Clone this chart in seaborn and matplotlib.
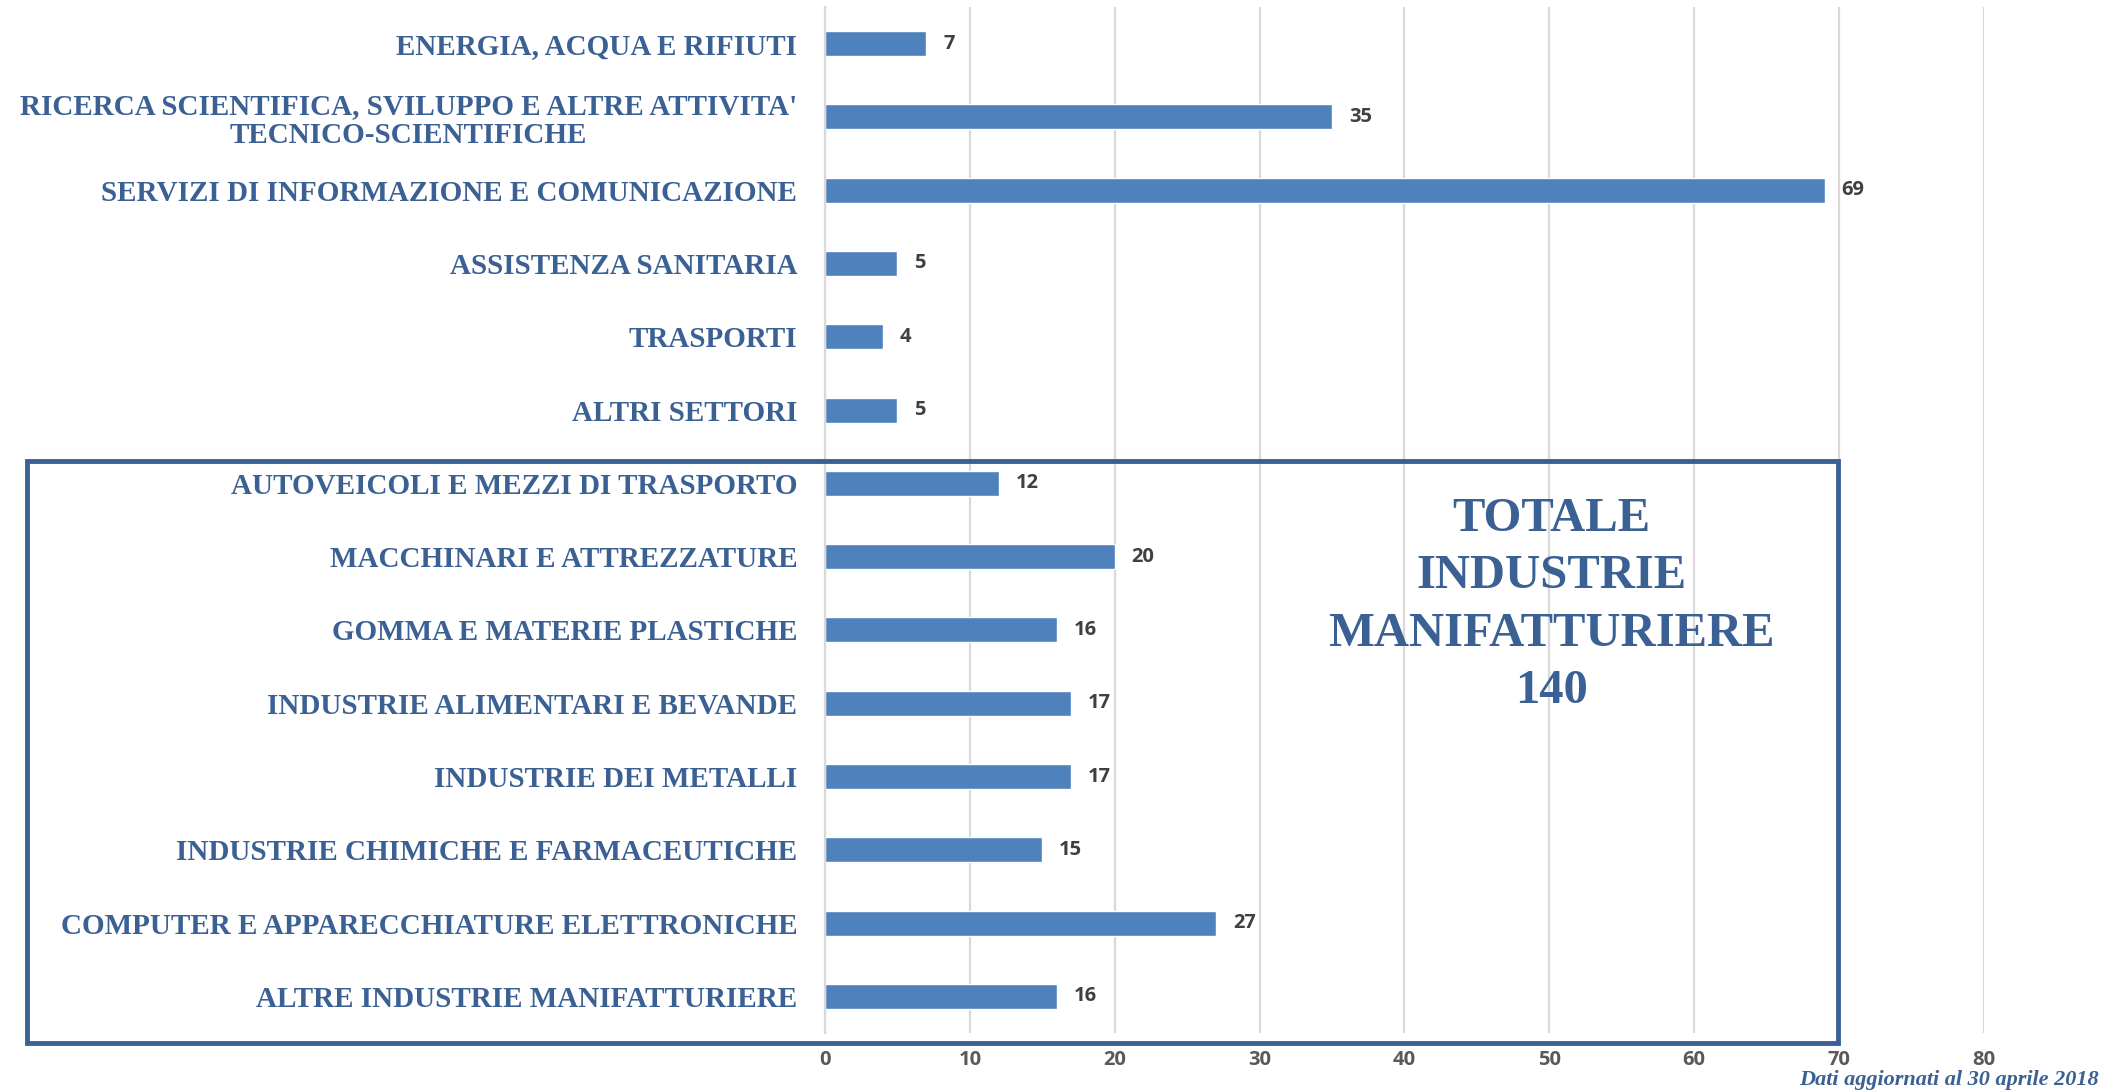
import matplotlib
matplotlib.use('Agg')
import matplotlib.pyplot as plt
import seaborn as sns
from matplotlib.patches import Rectangle
from matplotlib.ticker import MultipleLocator

settori = ["ENERGIA, ACQUA E RIFIUTI",
           "RICERCA SCIENTIFICA, SVILUPPO E ALTRE ATTIVITA'\nTECNICO-SCIENTIFICHE",
           "SERVIZI DI INFORMAZIONE E COMUNICAZIONE",
           "ASSISTENZA SANITARIA",
           "TRASPORTI",
           "ALTRI SETTORI",
           "AUTOVEICOLI E MEZZI DI TRASPORTO",
           "MACCHINARI E ATTREZZATURE",
           "GOMMA E MATERIE PLASTICHE",
           "INDUSTRIE ALIMENTARI E BEVANDE",
           "INDUSTRIE DEI METALLI",
           "INDUSTRIE CHIMICHE E FARMACEUTICHE",
           "COMPUTER E APPARECCHIATURE ELETTRONICHE",
           "ALTRE INDUSTRIE MANIFATTURIERE"]
imprese = [7, 35, 69, 5, 4, 5, 12, 20, 16, 17, 17, 15, 27, 16]
totale_manifatturiere = 140
nota = "Dati aggiornati al 30 aprile 2018"

blu_testo = '#3A6094'
blu_barre = '#4F81BD'
grigio = '#595959'

sns.set_style('white')
fig = plt.figure(figsize=(21.28, 10.92), dpi=100)
ax = fig.add_axes([0.3877, 0.054, 0.5446, 0.9396])

sns.barplot(x=imprese, y=settori, orient='h', color=blu_barre, width=0.34,
            saturation=1, ax=ax)
ax.bar_label(ax.containers[0], padding=12, fontsize=14.5, fontweight='bold',
             color='#404040', family='Open Sans')

ax.set_xlim(0, 80)
ax.set_ylim(len(settori) - 0.5, -0.5)
ax.xaxis.set_major_locator(MultipleLocator(10))
ax.grid(axis='x', color='#D9D9D9', linewidth=1.6)
ax.set_axisbelow(True)

for s in ['top', 'right', 'bottom']:
    ax.spines[s].set_visible(False)
ax.spines['left'].set_color('#D9D9D9')
ax.spines['left'].set_linewidth(1.6)

ax.tick_params(axis='y', length=0, pad=20)
ax.set_yticks([i - 0.5 for i in range(len(settori) + 1)], minor=True)
ax.tick_params(axis='y', which='minor', length=6, width=1.6, color='#D9D9D9')
ax.tick_params(axis='x', length=0, pad=12, labelsize=14.5, labelcolor=grigio)
for lab in ax.get_xticklabels():
    lab.set_fontweight('bold')
    lab.set_family('Open Sans')
for lab in ax.get_yticklabels():
    lab.set_family('Liberation Serif')
    lab.set_fontsize(21)
    lab.set_fontweight('bold')
    lab.set_color(blu_testo)
    lab.set_multialignment('center')
    lab.set_linespacing(1.12)

ax.set_xlabel('')
ax.set_ylabel('')

# riquadro industrie manifatturiere
fig.patches.append(Rectangle((0.0127, 0.0449), 0.851, 0.533, transform=fig.transFigure,
                             fill=False, edgecolor=blu_testo, linewidth=3.5, zorder=5))
fig.text(0.7289, 0.446, "TOTALE\nINDUSTRIE\nMANIFATTURIERE\n%d" % totale_manifatturiere,
         ha='center', va='center', family='Liberation Serif', fontweight='bold',
         fontsize=35, color=blu_testo, linespacing=1.4)

fig.text(0.9865, 0.002, nota, ha='right', va='bottom', family='Liberation Serif',
         style='italic', fontweight='bold', fontsize=16, color=blu_testo)

fig.savefig('out.png', dpi=100)
